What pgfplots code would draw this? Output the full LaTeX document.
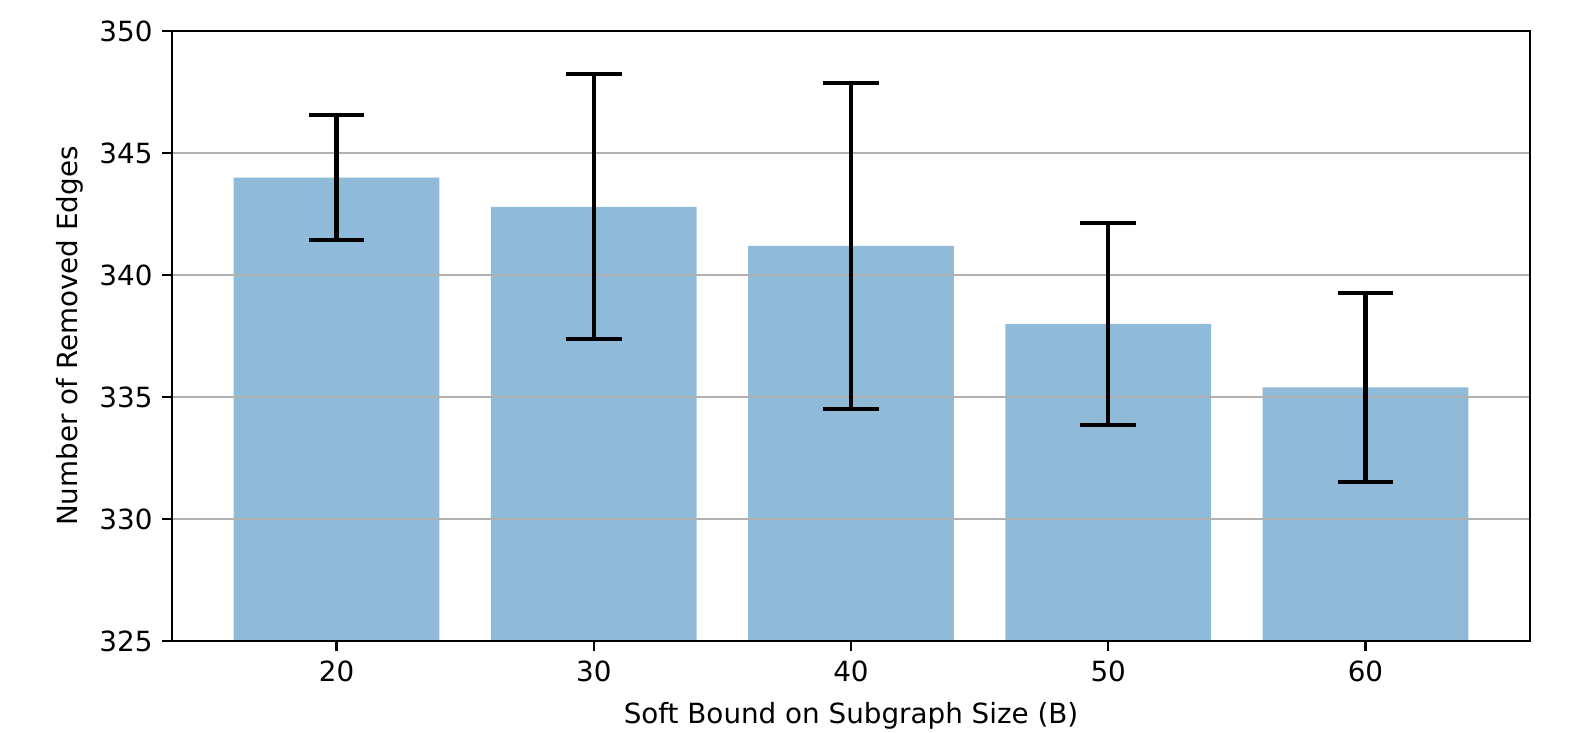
\documentclass[border=0pt]{standalone}
\usepackage{fontspec}
\setmainfont{DejaVu Sans}
\usepackage{pgfplots}
\pgfplotsset{compat=1.18}
\usetikzlibrary{calc}
\definecolor{barblue}{RGB}{31,119,180}
\definecolor{gridgray}{RGB}{176,176,176}
\begin{document}
\begin{tikzpicture}
\begin{axis}[
  name=ax,
  set layers=axis on top,
  scale only axis,
  width=488.9bp, height=219.6bp,
  xmin=13.6, xmax=66.4,
  ymin=325, ymax=350,
  xtick={20,30,40,50,60},
  ytick={325,330,335,340,345,350},
  tick align=outside,
  tick pos=left,
  major tick length=3.5bp,
  ymajorgrids,
  grid style={gridgray, line width=0.8bp},
  axis line style={line width=0.8bp},
  every tick/.style={black, line width=0.8bp},
  axis on top,
  /pgf/number format/assume math mode=true,
  /pgf/number format/1000 sep={},
  ticklabel style={font=\fontsize{10bp}{12bp}\selectfont, overlay},
  label style={font=\fontsize{10bp}{12bp}\selectfont, overlay},
  xlabel={Soft Bound on Subgraph Size (B)},
  ylabel={Number of Removed Edges},
  xlabel style={inner sep=0pt, yshift=-4bp},
  ylabel style={yshift=-1bp},
  clip=false,
]
\addplot[ybar, bar width=8, fill=barblue, fill opacity=0.5, draw=none]
coordinates {
  (20,344.0)
  (30,342.8)
  (40,341.2)
  (50,338.0)
  (60,335.4)
};
\addplot[on layer=axis foreground, draw=none, mark=none,
  error bars/.cd, y dir=both, y explicit,
  error bar style={black, line width=1.5bp, opacity=1},
  error mark options={rotate=90, mark size=10bp, line width=1.3bp, black, opacity=1}]
coordinates {
  (20,344.0) +- (0,2.55)
  (30,342.8) +- (0,5.43)
  (40,341.2) +- (0,6.68)
  (50,338.0) +- (0,4.14)
  (60,335.4) +- (0,3.87)
};
\end{axis}
\path ($(ax.south west)+(-61.9bp,-32.8bp)$) rectangle ($(ax.north east)+(15.1bp,11.2bp)$);
\end{tikzpicture}
\end{document}
